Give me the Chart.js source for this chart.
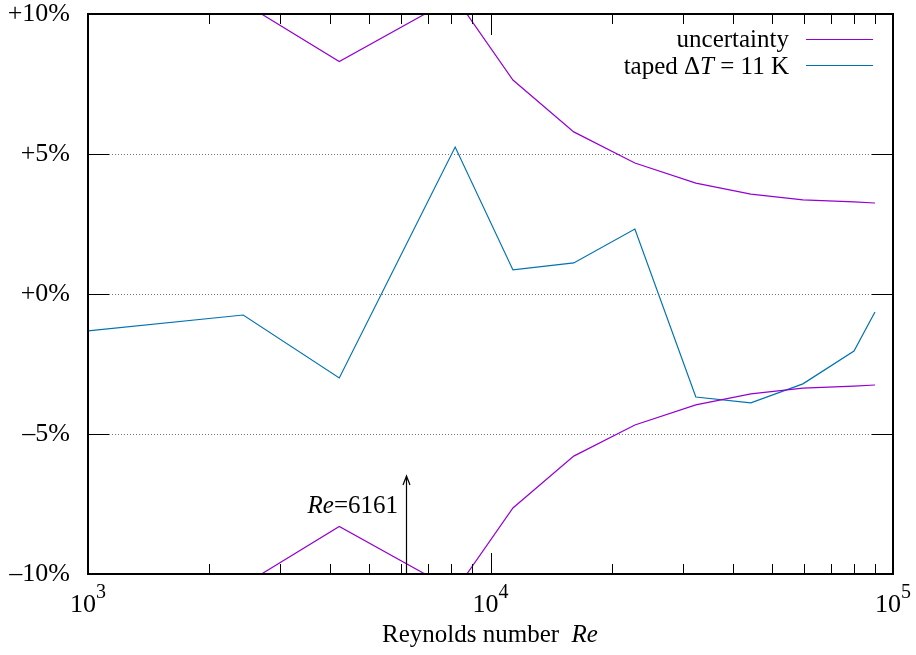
<!DOCTYPE html>
<html>
<head>
<meta charset="utf-8">
<script src="https://cdn.jsdelivr.net/npm/chart.js@4/dist/chart.umd.min.js"></script>
<style>
  html, body { margin: 0; padding: 0; background: #fff; }
  #wrap { width: 916px; height: 655px; }
</style>
</head>
<body>
<div id="wrap"><canvas id="devChart" width="916" height="655"></canvas></div>
<script>
// Reynolds numbers of the measured points
const reValues = [1000, 2430, 4210, 8170, 11370, 16100, 22840, 32370, 44340, 59720, 80000, 90200];
// deviation of the taped run (dT = 11 K), in percent
const tapedDev = [-1.32, -0.75, -3.0, 5.25, 0.86, 1.11, 2.32, -3.68, -3.89, -3.21, -2.04, -0.64];
// measurement uncertainty band (+/-), in percent
const uncertainty = [12.0, 10.4, 8.3, 10.6, 7.64, 5.79, 4.68, 3.96, 3.57, 3.36, 3.29, 3.25];

const yTicks = [-10, -5, 0, 5, 10];
const yTickLabels = ['\u201310%', '\u20135%', '+0%', '+5%', '+10%'];
const xMajorTicks = [1000, 10000, 100000];
const xMajorExp = ['3', '4', '5'];
const xMinorTicks = [2000, 3000, 4000, 5000, 6000, 7000, 8000, 9000,
                     20000, 30000, 40000, 50000, 60000, 70000, 80000, 90000];

// marked Reynolds number with an arrow
const markRe = 6161;
const markFrom = -10;
const markTo = -6.5;

const purple = '#9400d3';
const blue = '#0072b2';
const serif = '"Liberation Serif", "Times New Roman", serif';

function pts(ys) {
  return reValues.map((x, i) => ({ x: x, y: ys[i] }));
}

const gnuplotLook = {
  id: 'gnuplotLook',
  beforeDatasetsDraw(chart) {
    const ctx = chart.ctx, a = chart.chartArea, ys = chart.scales.y;
    ctx.save();
    ctx.strokeStyle = 'rgba(0,0,0,0.55)';
    ctx.lineWidth = 1;
    ctx.setLineDash([1, 2]);
    [-5, 0, 5].forEach(v => {
      const py = Math.round(ys.getPixelForValue(v)) + 0.5;
      ctx.beginPath();
      ctx.moveTo(a.left, py);
      ctx.lineTo(a.right, py);
      ctx.stroke();
    });
    ctx.restore();
  },
  afterDatasetsDraw(chart) {
    const ctx = chart.ctx, a = chart.chartArea, xs = chart.scales.x, ys = chart.scales.y;
    ctx.save();
    ctx.strokeStyle = '#000';
    ctx.lineWidth = 1;
    // y ticks both sides
    yTicks.forEach(v => {
      const py = Math.round(ys.getPixelForValue(v)) + 0.5;
      ctx.beginPath();
      ctx.moveTo(a.left, py); ctx.lineTo(a.left + 21, py);
      ctx.moveTo(a.right, py); ctx.lineTo(a.right - 21, py);
      ctx.stroke();
    });
    // x ticks bottom and top
    const tick = (v, len) => {
      const px = Math.round(xs.getPixelForValue(v)) + 0.5;
      ctx.beginPath();
      ctx.moveTo(px, a.bottom); ctx.lineTo(px, a.bottom - len);
      ctx.moveTo(px, a.top); ctx.lineTo(px, a.top + len);
      ctx.stroke();
    };
    xMajorTicks.forEach(v => tick(v, 21));
    xMinorTicks.forEach(v => tick(v, 10));
    // frame
    ctx.lineWidth = 2;
    ctx.strokeRect(a.left, a.top, a.right - a.left, a.bottom - a.top);

    // x tick labels 10^n
    ctx.fillStyle = '#000';
    ctx.textBaseline = 'alphabetic';
    ctx.textAlign = 'left';
    xMajorTicks.forEach((v, i) => {
      const px = xs.getPixelForValue(v);
      ctx.font = '26px ' + serif;
      const w1 = ctx.measureText('10').width;
      ctx.font = '20px ' + serif;
      const w2 = ctx.measureText(xMajorExp[i]).width;
      const x0 = px - (w1 + w2) / 2;
      ctx.font = '26px ' + serif;
      ctx.fillText('10', x0, 612);
      ctx.font = '20px ' + serif;
      ctx.fillText(xMajorExp[i], x0 + w1, 598);
    });

    // axis title
    const t1 = 'Reynolds number  ', t2 = 'Re';
    ctx.font = '25px ' + serif;
    const tw1 = ctx.measureText(t1).width;
    ctx.font = 'italic 25px ' + serif;
    const tw2 = ctx.measureText(t2).width;
    let tx = 490 - (tw1 + tw2) / 2;
    ctx.font = '25px ' + serif;
    ctx.fillText(t1, tx, 642);
    ctx.font = 'italic 25px ' + serif;
    ctx.fillText(t2, tx + tw1, 642);

    // legend
    const legendRows = [
      { parts: [['uncertainty', '']], color: purple, base: 47, line: 39.5 },
      { parts: [['taped \u0394', ''], ['T', 'italic '], [' = 11 K', '']], color: blue, base: 74, line: 65.5 }
    ];
    legendRows.forEach(r => {
      let x = 789;
      ctx.fillStyle = '#000';
      for (let k = r.parts.length - 1; k >= 0; k--) {
        const [txt, st] = r.parts[k];
        ctx.font = st + '25px ' + serif;
        x -= ctx.measureText(txt).width;
        ctx.fillText(txt, x, r.base);
      }
      ctx.strokeStyle = r.color;
      ctx.lineWidth = 1.2;
      ctx.beginPath();
      ctx.moveTo(806, r.line); ctx.lineTo(873, r.line);
      ctx.stroke();
    });

    // arrow at Re = 6161
    const ax = Math.round(xs.getPixelForValue(markRe)) + 0.5;
    const ay0 = ys.getPixelForValue(markFrom), ay1 = ys.getPixelForValue(markTo);
    ctx.strokeStyle = '#000';
    ctx.lineWidth = 1.2;
    ctx.beginPath();
    ctx.moveTo(ax, ay0); ctx.lineTo(ax, ay1);
    ctx.moveTo(ax - 3.5, ay1 + 9); ctx.lineTo(ax, ay1); ctx.lineTo(ax + 3.5, ay1 + 9);
    ctx.stroke();
    // label "Re=6161"
    ctx.font = '25px ' + serif;
    const lw2 = ctx.measureText('=' + markRe).width;
    ctx.font = 'italic 25px ' + serif;
    const lw1 = ctx.measureText('Re').width;
    const lx = 398 - lw1 - lw2;
    ctx.fillText('Re', lx, 513);
    ctx.font = '25px ' + serif;
    ctx.fillText('=' + markRe, lx + lw1, 513);
    ctx.restore();
  }
};

new Chart(document.getElementById('devChart').getContext('2d'), {
  type: 'line',
  data: {
    datasets: [{
      label: 'uncertainty',
      data: pts(uncertainty),
      borderColor: purple,
      borderWidth: 1.2
    }, {
      label: 'uncertainty (lower)',
      data: pts(uncertainty.map(v => -v)),
      borderColor: purple,
      borderWidth: 1.2
    }, {
      label: 'taped \u0394T = 11 K',
      data: pts(tapedDev),
      borderColor: blue,
      borderWidth: 1.2
    }]
  },
  options: {
    responsive: false,
    animation: false,
    devicePixelRatio: 1,
    layout: { padding: { top: 14, right: 23, left: 0, bottom: 0 } },
    elements: { point: { radius: 0 }, line: { tension: 0, fill: false } },
    plugins: { legend: { display: false }, tooltip: { enabled: false } },
    scales: {
      x: {
        type: 'logarithmic',
        min: 1000,
        max: 100000,
        grid: { display: false },
        border: { display: false },
        ticks: { display: false },
        afterFit(scale) {
          scale.height = 81;
          scale.paddingLeft = 0; scale.paddingRight = 0;
        }
      },
      y: {
        min: -10,
        max: 10,
        grid: { display: false, drawTicks: false },
        border: { display: false },
        afterBuildTicks(scale) { scale.ticks = yTicks.map(v => ({ value: v })); },
        ticks: {
          padding: 18,
          color: '#000',
          font: { family: serif, size: 26 },
          callback: (v) => yTickLabels[yTicks.indexOf(v)]
        },
        afterFit(scale) {
          scale.width = 88;
          scale.paddingTop = 0; scale.paddingBottom = 0;
        }
      }
    }
  },
  plugins: [gnuplotLook]
});
</script>
</body>
</html>
